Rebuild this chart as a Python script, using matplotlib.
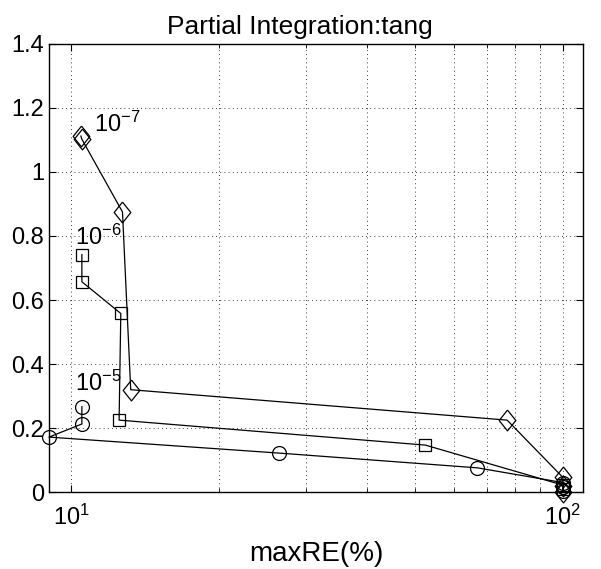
import numpy as np
import matplotlib
matplotlib.use('Agg')
import matplotlib.pyplot as plt
from matplotlib.ticker import FixedLocator, FuncFormatter, LogLocator

plt.rcParams['font.family'] = ['Liberation Sans', 'DejaVu Sans']

# series (x = maxRE %, y = value)
x_e5 = [10.5, 10.5, 9.0, 26.5, 67.0, 100, 100, 100]
y_e5 = [0.267, 0.213, 0.172, 0.122, 0.076, 0.03, 0.015, 0.004]

x_e6 = [10.5, 10.5, 12.6, 12.5, 52.5, 100, 100]
y_e6 = [0.742, 0.657, 0.558, 0.225, 0.147, 0.022, 0.01]

x_e7 = [10.45, 10.5, 12.7, 13.2, 77.0, 100, 100, 100]
y_e7 = [1.112, 1.102, 0.875, 0.32, 0.225, 0.046, 0.02, 0.0]

labels = [r'$\mathregular{10^{-5}}$', r'$\mathregular{10^{-6}}$', r'$\mathregular{10^{-7}}$']
label_pos = [(10.15, 0.30), (10.15, 0.755), (11.1, 1.11)]

# MATLAB-like diamond, a bit taller than wide
diamond = [(0, 1), (0.8, 0), (0, -1), (-0.8, 0), (0, 1)]

fig = plt.figure(figsize=(6.01, 5.69), dpi=100)
ax = fig.add_axes([0.0815, 0.135, 0.889, 0.788])

ax.plot(x_e5, y_e5, '-o', color='k', lw=0.9, ms=10, mfc='none', mec='k', mew=0.9, clip_on=False)
ax.plot(x_e6, y_e6, '-s', color='k', lw=0.9, ms=8, mfc='none', mec='k', mew=0.9, clip_on=False)
ax.plot(x_e7, y_e7, '-', marker=diamond, color='k', lw=0.9, ms=15, mfc='none', mec='k', mew=0.9, clip_on=False)

for (tx, ty), lab in zip(label_pos, labels):
    ax.text(tx, ty, lab, fontsize=17, ha='left', va='bottom')

ax.set_xscale('log')
ax.set_xlim(9.0, 110)
ax.set_ylim(0, 1.4)
ax.yaxis.set_major_locator(FixedLocator(np.arange(0, 1.41, 0.2)))
ax.yaxis.set_major_formatter(FuncFormatter(lambda v, p: ('%.1f' % v).rstrip('0').rstrip('.') if v else '0'))
ax.xaxis.set_major_locator(LogLocator(base=10))
ax.xaxis.set_minor_locator(LogLocator(base=10, subs=np.arange(2, 10)))

ax.grid(True, which='major', color='k', linestyle=(0, (1, 4)), lw=0.6)
ax.grid(True, which='minor', axis='x', color='k', linestyle=(0, (1, 4)), lw=0.6)

ax.tick_params(which='both', direction='in', top=True, right=True, labelsize=17)
ax.tick_params(which='major', length=5)
ax.tick_params(which='minor', length=3)
ax.tick_params(axis='x', which='major', pad=9)
for s in ax.spines.values():
    s.set_linewidth(1.0)

ax.set_title('Partial Integration:tang', fontsize=19, pad=7, x=0.47)
ax.set_xlabel('maxRE(%)', fontsize=20, labelpad=8)

fig.savefig('out.png', dpi=100)
